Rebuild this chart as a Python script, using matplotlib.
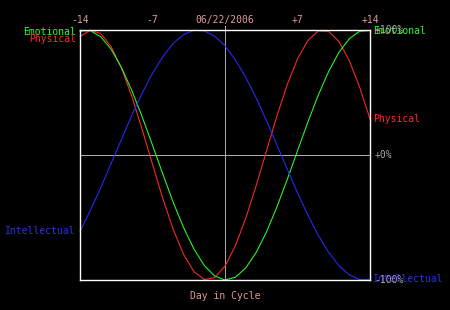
import matplotlib
matplotlib.use("Agg")
import matplotlib.pyplot as plt

# days around 06/22/2006 and cycle values (percent)
days = list(range(-14, 15))
physical = [94.7, 99.9, 97.2, 86.8, 69.6, 47.0, 20.5, -7.5, -34.9, -59.5,
            -79.5, -93.3, -99.6, -98.1, -88.9, -72.7, -50.7, -24.7, 3.2, 30.9,
            56.1, 76.9, 91.6, 99.2, 98.9, 90.8, 75.5, 54.3, 28.8]
emotional = [99.1, 99.5, 94.6, 84.7, 70.0, 51.6, 30.6, 7.9, -15.3, -37.9,
             -58.0, -75.2, -88.4, -96.8, -100.0, -97.8, -90.4, -78.1, -61.7, -41.8,
             -19.8, 3.4, 26.3, 47.8, 66.7, 82.1, 93.0, 99.0, 99.6]
intellectual = [-61.1, -44.4, -26.2, -6.9, 12.6, 31.6, 49.4, 65.4, 78.8, 89.3,
                96.3, 99.7, 99.3, 95.1, 87.3, 76.2, 62.2, 45.8, 27.6, 8.4,
                -11.1, -30.2, -48.1, -64.2, -77.8, -88.6, -95.9, -99.6, -99.5]

tick_days = [-14, -7, 0, 7, 14]
tick_labels = ["-14", "-7", "06/22/2006", "+7", "+14"]
series = [("Physical", physical, "#ff2a2a"),
          ("Emotional", emotional, "#2aff2a"),
          ("Intellectual", intellectual, "#2a2aff")]

pink = "#e09a9a"
grey = "#a8a8a8"
font = dict(family="DejaVu Sans Mono", fontsize=7)

fig = plt.figure(figsize=(4.5, 3.1), dpi=100, facecolor="black")
ax = fig.add_axes([80 / 450, 30 / 310, 290 / 450, 250 / 310], facecolor="black")
ax.set_xlim(-14, 14)
ax.set_ylim(-100, 100)

ax.axhline(0, color=grey, lw=0.72)
ax.axvline(0, color=grey, lw=0.72)
ax.plot([0, 0], [1.0, 1.018], transform=ax.get_xaxis_transform(),
        color=pink, lw=0.72, clip_on=False)

for name, vals, col in series:
    ax.plot(days, vals, color=col, lw=0.75, clip_on=False)

for sp in ax.spines.values():
    sp.set_color("white")
    sp.set_linewidth(1.0)
ax.set_xticks([])
ax.set_yticks([])

for d, lab in zip(tick_days, tick_labels):
    ax.text(d, 1.04, lab, transform=ax.get_xaxis_transform(), color=pink,
            ha="center", va="center", **font)

# left-hand labels at the start values
ax.text(-14.4, emotional[0] - 1, "Emotional", color="#2aff2a", ha="right", va="center", **font)
ax.text(-14.4, physical[0] - 2, "Physical", color="#ff2a2a", ha="right", va="center", **font)
ax.text(-14.4, intellectual[0], "Intellectual", color="#3030e0", ha="right", va="center", **font)

# right-hand labels at the end values, with scale marks
ax.text(14.3, physical[-1], "Physical", color="#ff2a2a", ha="left", va="center", **font)
ax.text(14.3, emotional[-1], "Emotional", color="#2aff2a", ha="left", va="center", **font)
ax.text(14.3, intellectual[-1], "Intellectual", color="#3030e0", ha="left", va="center", **font)
ax.text(14.4, 100, "+100%", color=grey, ha="left", va="center", **font)
ax.text(14.4, 0, "+0%", color=grey, ha="left", va="center", **font)
ax.text(14.4, -100, "-100%", color=grey, ha="left", va="center", **font)

ax.text(0.5, -0.065, "Day in Cycle", transform=ax.transAxes, color=pink,
        ha="center", va="center", **font)

fig.savefig("out.png", dpi=100, facecolor="black")
